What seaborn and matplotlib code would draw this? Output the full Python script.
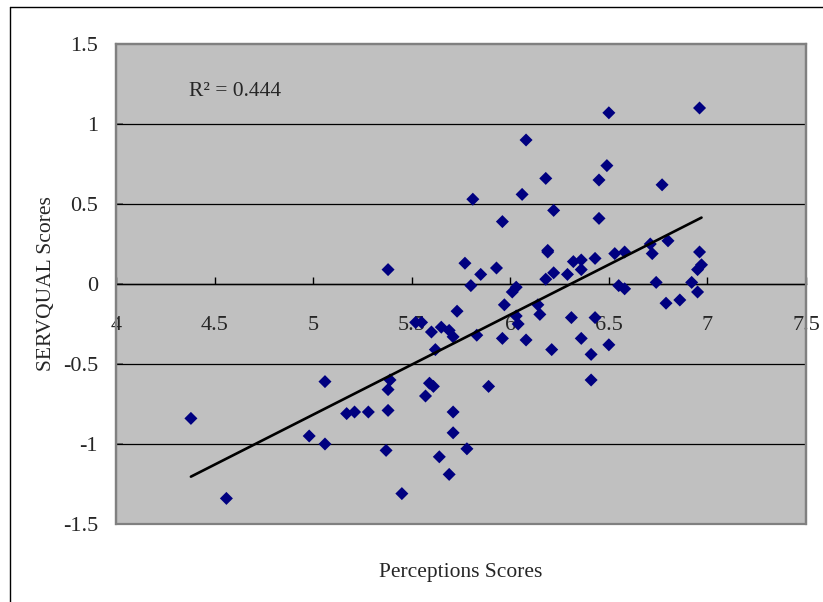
import matplotlib
matplotlib.use("Agg")
import matplotlib.pyplot as plt
from matplotlib.patches import Rectangle
import seaborn as sns
import pandas as pd

# Respondent scores: perceptions (x) vs. SERVQUAL gap (y)
perceptions = [
    4.38, 4.56, 4.98, 5.06, 5.06, 5.17, 5.21, 5.28, 5.37, 5.38,
    5.38, 5.38, 5.39, 5.45, 5.52, 5.55, 5.57, 5.59, 5.60, 5.61,
    5.62, 5.64, 5.65, 5.69, 5.69, 5.71, 5.71, 5.71, 5.73, 5.77,
    5.78, 5.80, 5.81, 5.83, 5.85, 5.89, 5.93, 5.96, 5.96, 5.97,
    6.01, 6.03, 6.03, 6.04, 6.06, 6.08, 6.08, 6.14, 6.15, 6.18,
    6.18, 6.19, 6.19, 6.21, 6.22, 6.22, 6.29, 6.31, 6.32, 6.36,
    6.36, 6.36, 6.41, 6.41, 6.43, 6.43, 6.45, 6.45, 6.49, 6.50,
    6.50, 6.53, 6.55, 6.58, 6.58, 6.71, 6.72, 6.74, 6.77, 6.79,
    6.80, 6.86, 6.92, 6.95, 6.96, 6.96, 6.95, 6.97,
]
servqual = [
    -0.84, -1.34, -0.95, -0.61, -1.00, -0.81, -0.80, -0.80, -1.04, 0.09,
    -0.79, -0.66, -0.60, -1.31, -0.24, -0.24, -0.70, -0.62, -0.30, -0.64,
    -0.41, -1.08, -0.27, -0.29, -1.19, -0.33, -0.80, -0.93, -0.17, 0.13,
    -1.03, -0.01, 0.53, -0.32, 0.06, -0.64, 0.10, 0.39, -0.34, -0.13,
    -0.05, -0.02, -0.20, -0.25, 0.56, 0.90, -0.35, -0.13, -0.19, 0.66,
    0.03, 0.21, 0.20, -0.41, 0.46, 0.07, 0.06, -0.21, 0.14, 0.15,
    0.09, -0.34, -0.44, -0.60, 0.16, -0.21, 0.41, 0.65, 0.74, 1.07,
    -0.38, 0.19, -0.01, -0.03, 0.20, 0.25, 0.19, 0.01, 0.62, -0.12,
    0.27, -0.10, 0.01, -0.05, 1.10, 0.20, 0.09, 0.12,
]
x_ticks = [4, 4.5, 5, 5.5, 6, 6.5, 7, 7.5]
x_tick_labels = ["4", "4.5", "5", "5.5", "6", "6.5", "7", "7.5"]
y_ticks = [-1.5, -1, -0.5, 0, 0.5, 1, 1.5]
y_tick_labels = ["-1.5", "-1", "-0.5", "0", "0.5", "1", "1.5"]
r_squared_label = "R² = 0.444"

df = pd.DataFrame({"Perceptions Scores": perceptions, "SERVQUAL Scores": servqual})

sns.set_theme(style="white")
plt.rcParams["font.family"] = ["Liberation Serif", "DejaVu Serif"]

W, H = 823, 602
fig = plt.figure(figsize=(W / 100, H / 100), dpi=100)
fig.patch.set_facecolor("white")

# Outer chart frame (open at the right and bottom)
fig.add_artist(plt.Line2D([10 / W, 10 / W], [0, 1 - 7 / H], color="black", lw=1.0))
fig.add_artist(plt.Line2D([10 / W, 1], [1 - 7 / H, 1 - 7 / H], color="black", lw=1.0))

left, right, top, bottom = 116, 806, 44, 524
ax = fig.add_axes([left / W, 1 - bottom / H, (right - left) / W, (bottom - top) / H])
ax.set_facecolor("#c0c0c0")

sns.regplot(
    data=df, x="Perceptions Scores", y="SERVQUAL Scores", ax=ax, ci=None,
    marker="D", truncate=True,
    scatter_kws=dict(s=44, color="#000080", edgecolors="none", alpha=1, zorder=3),
    line_kws=dict(color="black", lw=1.9, zorder=4),
)

ax.set_xlim(4, 7.5)
ax.set_ylim(-1.5, 1.5)

# Horizontal gridlines
for yv in y_ticks[1:-1]:
    ax.axhline(yv, color="black", lw=0.9, zorder=1)

# Plot-area border
for s in ["left", "right", "top"]:
    ax.spines[s].set_color("#808080")
    ax.spines[s].set_linewidth(1.6)
ax.add_patch(Rectangle((0, 0), 1, 1, transform=ax.transAxes, fill=False,
                       edgecolor="#808080", lw=1.6, zorder=5, clip_on=False))

# Category axis crosses at y = 0
ax.spines["bottom"].set_position(("data", 0))
ax.spines["bottom"].set_color("black")
ax.spines["bottom"].set_linewidth(1.0)

ax.set_xticks(x_ticks)
ax.set_xticklabels(x_tick_labels)
ax.set_yticks(y_ticks)
ax.set_yticklabels(y_tick_labels)
ax.tick_params(axis="x", direction="in", length=5, width=1, color="black",
               pad=23, labelsize=16, bottom=True)
ax.tick_params(axis="y", direction="in", length=5, width=1.2, color="#606060",
               pad=13, labelsize=16, left=True)

ax.set_xlabel("Perceptions Scores", fontsize=15.5)
ax.set_ylabel("SERVQUAL Scores", fontsize=15.5)
ax.xaxis.set_label_coords(0.5, -0.082)
ax.yaxis.set_label_coords(-0.087, 0.5)

ax.text(4.37, 1.2, r_squared_label, fontsize=15.5, va="center", ha="left", zorder=6)

fig.savefig("out.png", dpi=100, facecolor="white")
